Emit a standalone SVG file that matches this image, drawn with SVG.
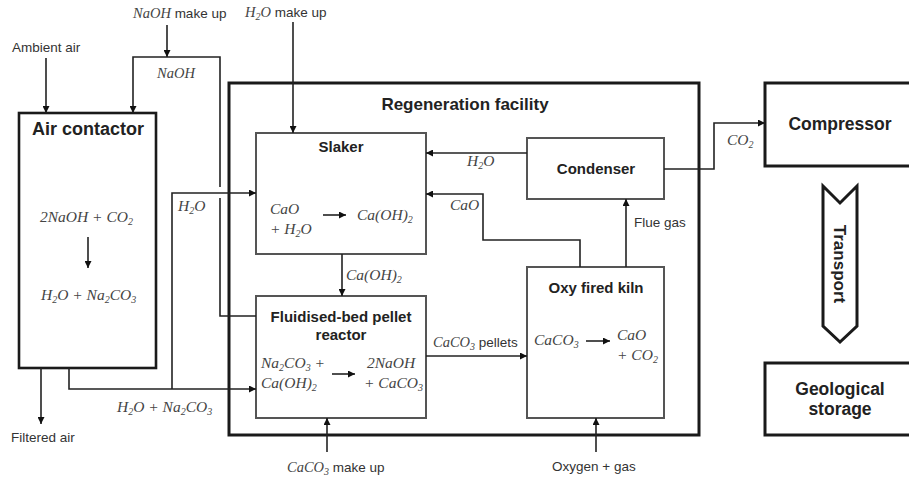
<svg xmlns="http://www.w3.org/2000/svg" width="909" height="478" viewBox="0 0 909 478">
<defs>
<marker id="ah" viewBox="0 0 10 10" refX="10" refY="5" markerWidth="7" markerHeight="7" markerUnits="userSpaceOnUse" orient="auto"><path d="M0,0 L10,5 L0,10 z" fill="#111"/></marker>
<style>
.outer{fill:#fff;stroke:#1a1a1a;stroke-width:3}
.inner{fill:#fff;stroke:#555;stroke-width:2}
.ln{fill:none;stroke:#222;stroke-width:1.6}
.ar{fill:none;stroke:#222;stroke-width:1.6;marker-end:url(#ah)}
.t{font-family:"Liberation Sans",Arial,sans-serif;font-size:13.5px;fill:#333}
.b{font-family:"Liberation Sans",Arial,sans-serif;font-weight:bold;fill:#222}
.c{font-family:"Liberation Serif","Times New Roman",serif;font-style:italic;font-size:15.5px;fill:#444}
.s{font-size:10px}
</style>
</defs>
<rect width="909" height="478" fill="#fff"/>

<g id="regeneration-facility">
<rect class="outer" x="229" y="83" width="470" height="352"/>
<text class="b" x="465" y="110" font-size="17" text-anchor="middle">Regeneration facility</text>
</g>

<g id="air-contactor">
<rect class="outer" x="19" y="113" width="137" height="255" style="stroke-width:2.6"/>
<text class="b" x="88" y="135" font-size="18" text-anchor="middle">Air contactor</text>
<text class="c" x="40" y="222">2NaOH + CO<tspan class="s" dy="3">2</tspan></text>
<line class="ar" x1="88" y1="237" x2="88" y2="268"/>
<text class="c" x="41" y="300">H<tspan class="s" dy="3">2</tspan><tspan dy="-3">O + Na</tspan><tspan class="s" dy="3">2</tspan><tspan dy="-3">CO</tspan><tspan class="s" dy="3">3</tspan></text>
</g>

<g id="slaker">
<rect class="inner" x="256" y="133" width="170" height="121"/>
<text class="b" x="341" y="152" font-size="15" text-anchor="middle">Slaker</text>
<text class="c" x="270" y="214">CaO</text>
<text class="c" x="270" y="234">+ H<tspan class="s" dy="3">2</tspan><tspan dy="-3">O</tspan></text>
<line class="ar" x1="323" y1="215" x2="346" y2="215"/>
<text class="c" x="357" y="220">Ca(OH)<tspan class="s" dy="3">2</tspan></text>
</g>

<g id="pellet-reactor">
<rect class="inner" x="256" y="296" width="170" height="122"/>
<text class="b" x="341" y="322" font-size="15" text-anchor="middle">Fluidised-bed pellet</text>
<text class="b" x="341" y="340" font-size="15" text-anchor="middle">reactor</text>
<text class="c" x="261" y="368">Na<tspan class="s" dy="3">2</tspan><tspan dy="-3">CO</tspan><tspan class="s" dy="3">3</tspan><tspan dy="-3"> +</tspan></text>
<text class="c" x="261" y="388">Ca(OH)<tspan class="s" dy="3">2</tspan></text>
<line class="ar" x1="332" y1="374" x2="355" y2="374"/>
<text class="c" x="367" y="368">2NaOH</text>
<text class="c" x="364" y="388">+ CaCO<tspan class="s" dy="3">3</tspan></text>
</g>

<g id="condenser">
<rect class="inner" x="527" y="138" width="137" height="61"/>
<text class="b" x="596" y="174" font-size="15" text-anchor="middle">Condenser</text>
</g>

<g id="kiln">
<rect class="inner" x="527" y="267" width="137" height="151"/>
<text class="b" x="596" y="293" font-size="15" text-anchor="middle">Oxy fired kiln</text>
<text class="c" x="534" y="345">CaCO<tspan class="s" dy="3">3</tspan></text>
<line class="ar" x1="586" y1="341" x2="610" y2="341"/>
<text class="c" x="617" y="340">CaO</text>
<text class="c" x="617" y="360">+ CO<tspan class="s" dy="3">2</tspan></text>
</g>

<g id="compressor">
<rect class="outer" x="765" y="83" width="147" height="83"/>
<text class="b" x="840" y="130" font-size="17.5" text-anchor="middle">Compressor</text>
</g>

<g id="transport">
<polygon points="823,186 840,203 857,186 857,326 840,342 823,326" fill="#fff" stroke="#1a1a1a" stroke-width="3" stroke-linejoin="miter"/>
<text class="b" font-size="17" text-anchor="middle" transform="translate(834,264) rotate(90)">Transport</text>
</g>

<g id="geological-storage">
<rect class="outer" x="765" y="363" width="147" height="72"/>
<text class="b" x="840" y="395" font-size="17.5" text-anchor="middle">Geological</text>
<text class="b" x="840" y="415" font-size="17.5" text-anchor="middle">storage</text>
</g>

<g id="connectors">
<line class="ar" x1="46" y1="58" x2="46" y2="113"/>
<line class="ar" x1="167" y1="25" x2="167" y2="57"/>
<path class="ln" d="M256,316 H220 V198"/>
<path class="ar" d="M220,187 V57 H133 V113"/>
<line class="ar" x1="41" y1="368" x2="41" y2="424"/>
<path class="ar" d="M69,368 V389 H256"/>
<path class="ar" d="M172,389 V193 H256"/>
<line class="ar" x1="293" y1="22" x2="293" y2="133"/>
<line class="ar" x1="527" y1="153" x2="426" y2="153"/>
<path class="ar" d="M580,267 V240 H483 V194 H426"/>
<line class="ar" x1="342" y1="254" x2="342" y2="296"/>
<line class="ar" x1="426" y1="356" x2="527" y2="356"/>
<line class="ar" x1="327" y1="452" x2="327" y2="418"/>
<line class="ar" x1="596" y1="452" x2="596" y2="418"/>
<line class="ar" x1="626" y1="267" x2="626" y2="199"/>
<path class="ar" d="M664,169 H714 V123 H765"/>
</g>

<g id="labels">
<text class="t" x="12" y="52">Ambient air</text>
<text class="t" x="133" y="18"><tspan class="c" style="font-size:14.5px">NaOH</tspan> make up</text>
<text class="c" x="157" y="78" style="font-size:14.5px">NaOH</text>
<text class="t" x="11" y="442">Filtered air</text>
<text class="c" x="117" y="412">H<tspan class="s" dy="3">2</tspan><tspan dy="-3">O + Na</tspan><tspan class="s" dy="3">2</tspan><tspan dy="-3">CO</tspan><tspan class="s" dy="3">3</tspan></text>
<text class="c" x="178" y="211">H<tspan class="s" dy="3">2</tspan><tspan dy="-3">O</tspan></text>
<text class="t" x="245" y="17"><tspan class="c" style="font-size:14.5px">H<tspan class="s" dy="3">2</tspan><tspan dy="-3">O</tspan></tspan> make up</text>
<text class="c" x="467" y="166">H<tspan class="s" dy="3">2</tspan><tspan dy="-3">O</tspan></text>
<text class="c" x="450" y="210">CaO</text>
<text class="c" x="346" y="280">Ca(OH)<tspan class="s" dy="3">2</tspan></text>
<text class="t" x="433" y="347"><tspan class="c" style="font-size:14.5px">CaCO<tspan class="s" dy="3">3</tspan></tspan><tspan dy="-3"> pellets</tspan></text>
<text class="t" x="287" y="472"><tspan class="c" style="font-size:14.5px">CaCO<tspan class="s" dy="3">3</tspan></tspan><tspan dy="-3"> make up</tspan></text>
<text class="t" x="552" y="471">Oxygen + gas</text>
<text class="t" x="634" y="227">Flue gas</text>
<text class="c" x="727" y="145">CO<tspan class="s" dy="3">2</tspan></text>
</g>
</svg>
